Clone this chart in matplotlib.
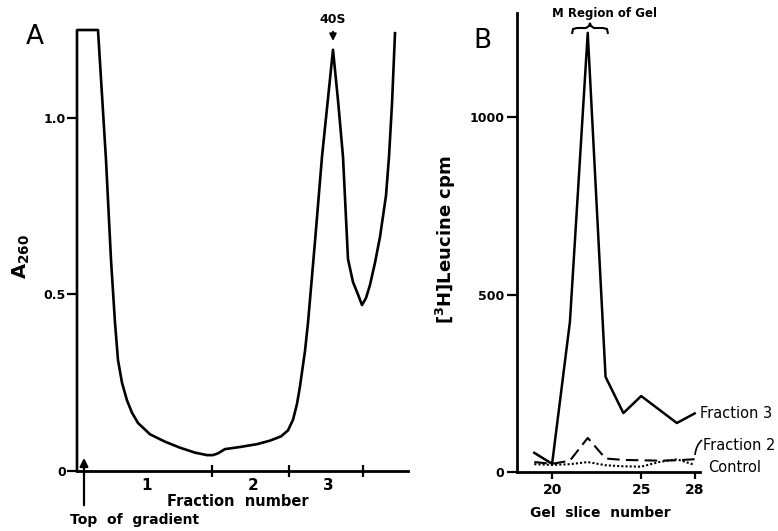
import matplotlib
matplotlib.use('Agg')
import matplotlib.pyplot as plt
from matplotlib.path import Path
from matplotlib.patches import PathPatch

W, H = 778, 531

# Panel A: A260 trace along the gradient (position in arbitrary units, 0 = top)
grad_pos = [0.0, 0.0, 2.1, 2.9, 3.4, 3.8, 4.1, 4.5, 5.0, 5.5, 6.1, 7.3, 8.8, 10.3,
            11.8, 13.0, 13.6, 14.1, 14.8, 16.3, 18.0, 19.3, 20.4, 21.1, 21.6, 22.0,
            22.3, 22.8, 23.1, 23.8, 24.5, 25.6, 26.1, 26.6, 27.1, 27.6, 28.1, 28.5,
            28.9, 29.3, 29.8, 30.3, 30.9, 31.2, 31.5, 31.8]
a260 = [0.0, 1.249, 1.249, 0.881, 0.598, 0.42, 0.314, 0.25, 0.20, 0.165, 0.136,
        0.104, 0.083, 0.066, 0.052, 0.045, 0.045, 0.05, 0.062, 0.068, 0.076, 0.086,
        0.098, 0.115, 0.145, 0.19, 0.24, 0.34, 0.42, 0.65, 0.89, 1.193, 1.05, 0.89,
        0.60, 0.535, 0.50, 0.47, 0.49, 0.527, 0.59, 0.663, 0.78, 0.89, 1.04, 1.24]
fraction_bounds = [13.5, 21.2, 28.6]
fraction_label_pos = [7.0, 17.6, 25.1]
fraction_labels = ['1', '2', '3']
peak_40s = 25.6

# Panel B: [3H]leucine cpm per gel slice
slices = [19, 20, 21, 22, 23, 24, 25, 26, 27, 28]
frac3 = [54, 23, 423, 1237, 268, 166, 214, 176, 138, 165]
frac2 = [28, 23, 32, 96, 38, 34, 33, 32, 33, 36]
control = [22, 20, 22, 28, 19, 16, 15, 28, 36, 20]

fig = plt.figure(figsize=(W / 100, H / 100), dpi=100)


def fx(px):
    return px / W


def fy(py):
    return 1 - py / H


# ---- panel A ----
axA = fig.add_axes([fx(77), fy(471), 331 / W, 459 / H])
axA.plot(grad_pos, a260, color='black', lw=1.9, clip_on=False,
         solid_joinstyle='round')
axA.set_xlim(0, 33.1)
axA.set_ylim(0, 1.3)
for s in ['top', 'right', 'left']:
    axA.spines[s].set_visible(False)
axA.spines['bottom'].set_linewidth(2)
axA.set_yticks([0, 0.5, 1.0])
axA.set_yticklabels(['0', '0.5', '1.0'], fontsize=9, fontweight='bold')
axA.tick_params(axis='y', length=7, width=1.6, pad=1)
axA.set_xticks(fraction_bounds)
axA.set_xticklabels([])
axA.tick_params(axis='x', which='major', direction='inout', length=9, width=1.6)
axA.set_xticks(fraction_label_pos, minor=True)
axA.set_xticklabels(fraction_labels, minor=True, fontsize=11, fontweight='bold')
axA.tick_params(axis='x', which='minor', length=0, pad=5)

axA.annotate('', xy=(0.7, 0.045), xytext=(0.7, -0.105),
             arrowprops=dict(arrowstyle='-|>', color='black', lw=1.6,
                             mutation_scale=12),
             annotation_clip=False)
axA.annotate('40S', xy=(peak_40s, 1.21), xytext=(peak_40s, 1.26),
             ha='center', va='bottom', fontsize=9, fontweight='bold',
             arrowprops=dict(arrowstyle='-|>', color='black', lw=1.4,
                             mutation_scale=10),
             annotation_clip=False)

fig.text(fx(35), fy(37), 'A', fontsize=19, ha='center', va='center')
fig.text(fx(21), fy(256), r'$\mathbf{A_{260}}$', fontsize=14, rotation=90,
         ha='center', va='center')
fig.text(fx(238), fy(502), 'Fraction  number', fontsize=10.5, fontweight='bold',
         ha='center', va='center')
fig.text(fx(135), fy(520), 'Top  of  gradient', fontsize=10, fontweight='bold',
         ha='center', va='center')

# ---- panel B ----
axB = fig.add_axes([fx(517), fy(472), 183 / W, 459 / H])
axB.plot(slices, frac3, color='black', lw=1.8, clip_on=False)
axB.plot(slices, frac2, color='black', lw=1.5, dashes=(6, 3), clip_on=False)
axB.plot(slices, control, color='black', lw=1.5, dashes=(1, 1), clip_on=False)
axB.set_xlim(18.03, 28.3)
axB.set_ylim(0, 1293)
for s in ['top', 'right']:
    axB.spines[s].set_visible(False)
axB.spines['left'].set_linewidth(2)
axB.spines['bottom'].set_linewidth(2)
axB.set_yticks([0, 500, 1000])
axB.set_yticklabels(['0', '500', '1000'], fontsize=9, fontweight='bold')
axB.tick_params(axis='y', length=7, width=1.6, pad=2)
axB.set_xticks([20, 25, 28])
axB.set_xticklabels(['20', '25', '28'], fontsize=10, fontweight='bold')
axB.tick_params(axis='x', length=5, width=1.6, pad=3)

fig.text(fx(482), fy(41), 'B', fontsize=19, ha='center', va='center')
fig.text(fx(446), fy(240), r'[$^\mathbf{3}$H]Leucine cpm', fontsize=13,
         fontweight='bold', rotation=90, ha='center', va='center')
fig.text(fx(600), fy(513), 'Gel  slice  number', fontsize=10, fontweight='bold',
         ha='center', va='center')
fig.text(fx(604), fy(14), 'M Region of Gel', fontsize=8.5, fontweight='bold',
         ha='center', va='center')
fig.text(fx(700), fy(413), 'Fraction 3', fontsize=10.5, ha='left', va='center')
fig.text(fx(703), fy(446), 'Fraction 2', fontsize=10.5, ha='left', va='center')
fig.text(fx(708), fy(467), 'Control', fontsize=10.5, ha='left', va='center')

# curly brace over the M region, drawn in pixel space
bx = [572, 573, 577, 586, 589, 590, 591, 594, 603, 607, 608]
by = [34, 29, 28, 28, 26, 23, 26, 28, 28, 29, 34]
brace = PathPatch(Path([(fx(x), fy(y)) for x, y in zip(bx, by)]),
                  transform=fig.transFigure, fill=False, lw=1.5, color='black')
fig.add_artist(brace)

# little curved pointer from Fraction 2 label to its line
ptr = PathPatch(Path([(fx(702), fy(440)), (fx(696), fy(445)),
                      (fx(695), fy(455))],
                     [Path.MOVETO, Path.CURVE3, Path.CURVE3]),
                transform=fig.transFigure, fill=False, lw=1.2, color='black')
fig.add_artist(ptr)

plt.savefig('out.png', dpi=100)
plt.close()
